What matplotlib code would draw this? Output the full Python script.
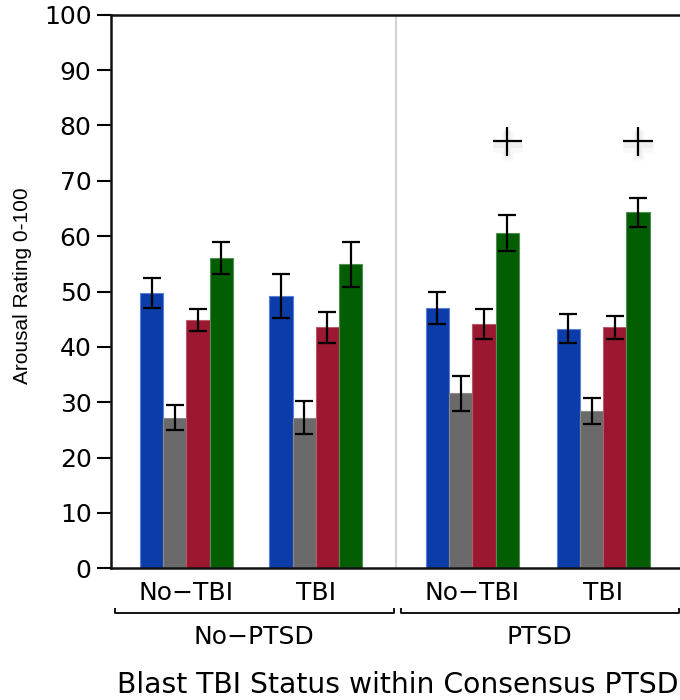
import matplotlib
matplotlib.use("Agg")
import matplotlib.pyplot as plt
import matplotlib.patheffects as pe
from matplotlib.transforms import blended_transform_factory
import numpy as np

# Groups: blast TBI status within consensus PTSD
group_labels = ["No\u2212TBI", "TBI", "No\u2212TBI", "TBI"]
section_labels = ["No\u2212PTSD", "PTSD"]
group_pos = [0.265, 0.72, 1.27, 1.73]

# Mean arousal ratings (0-100) and error bar half-widths per series
blue_vals = [49.7, 49.2, 47.1, 43.3]
blue_err = [2.7, 4.05, 2.9, 2.65]
gray_vals = [27.2, 27.2, 31.6, 28.4]
gray_err = [2.3, 3.0, 3.1, 2.3]
red_vals = [44.85, 43.5, 44.1, 43.5]
red_err = [2.0, 2.85, 2.7, 2.15]
green_vals = [56.0, 54.9, 60.6, 64.3]
green_err = [2.9, 4.05, 3.25, 2.65]

# Significance markers above the green bars of the PTSD groups
marker_groups = [2, 3]
marker_y = [77.1, 77.1]

yticks = [0, 10, 20, 30, 40, 50, 60, 70, 80, 90, 100]

series = [
    (blue_vals, blue_err, "#0b3ca9", "#5b7fd4"),
    (gray_vals, gray_err, "#6a6a6a", "#8a8a8a"),
    (red_vals, red_err, "#9b1830", "#b85a6a"),
    (green_vals, green_err, "#035e03", "#4f8f4f"),
]

W, H = 680, 700
fig = plt.figure(figsize=(W / 100, H / 100), dpi=100)
ax = fig.add_axes([111 / W, 1 - 568.3 / H, (W - 111) / W, (568.3 - 14.7) / H])

bw = 0.0817
x = np.array(group_pos)
for i, (vals, errs, col, edge) in enumerate(series):
    xs = x + (i - 1.5) * bw
    ax.bar(xs, vals, width=bw, color=col, edgecolor=edge, linewidth=0.8, zorder=2)
    ax.errorbar(xs, vals, yerr=errs, fmt="none", ecolor="black", elinewidth=1.6,
                capsize=6.5, capthick=1.6, zorder=3)

# Divider between the two PTSD sections
ax.axvline(1.0, color="#d4d4d4", linewidth=1.6, zorder=1)

# "+" markers with a soft shadow
for g, my in zip(marker_groups, marker_y):
    mx = x[g] + 1.5 * bw
    ax.plot([mx], [my], marker="+", markersize=21, markeredgewidth=1.6, color="black",
            linestyle="none", zorder=4, clip_on=False,
            path_effects=[pe.SimpleLineShadow(offset=(0, -3), shadow_color="gray",
                                              alpha=0.05, linewidth=9),
                          pe.SimpleLineShadow(offset=(0, -1.5), shadow_color="gray",
                                              alpha=0.07, linewidth=5),
                          pe.Normal()])

ax.set_xlim(0, 2.0)
ax.set_ylim(0, 100)
ax.set_yticks(yticks)
ax.set_yticklabels([str(t) for t in yticks], fontsize=18, family="DejaVu Sans")
ax.set_xticks([])
ax.tick_params(axis="y", length=10, width=1.5, pad=4, direction="out")

for s in ["left", "bottom", "top"]:
    ax.spines[s].set_linewidth(1.8)
    ax.spines[s].set_color("#111111")
ax.spines["right"].set_visible(False)

trans = blended_transform_factory(ax.transData, ax.transAxes)

for gx, lab in zip(group_pos, group_labels):
    ax.text(gx, -0.044, lab, transform=trans, ha="center", va="center",
            fontsize=18, family="DejaVu Sans")

# Section brackets
brackets = [(0.014, 0.993), (1.018, 1.996)]
by, tick_top = -0.0807, -0.0717
for (x0, x1), lab in zip(brackets, section_labels):
    ax.plot([x0, x0, x1, x1], [tick_top, by, by, tick_top], transform=trans,
            color="black", linewidth=1.3, clip_on=False, solid_capstyle="butt")
    ax.text((x0 + x1) / 2, -0.1236, lab, transform=trans, ha="center", va="center",
            fontsize=18, family="DejaVu Sans")

fig.text(397.5 / W, 1 - 685 / H, "Blast TBI Status within Consensus PTSD",
         ha="center", va="center", fontsize=20.3, family="DejaVu Sans")
fig.text(22 / W, 1 - 286 / H, "Arousal Rating 0-100", rotation=90,
         ha="center", va="center", fontsize=15, family="Liberation Sans")

fig.savefig("out.png", dpi=100)
